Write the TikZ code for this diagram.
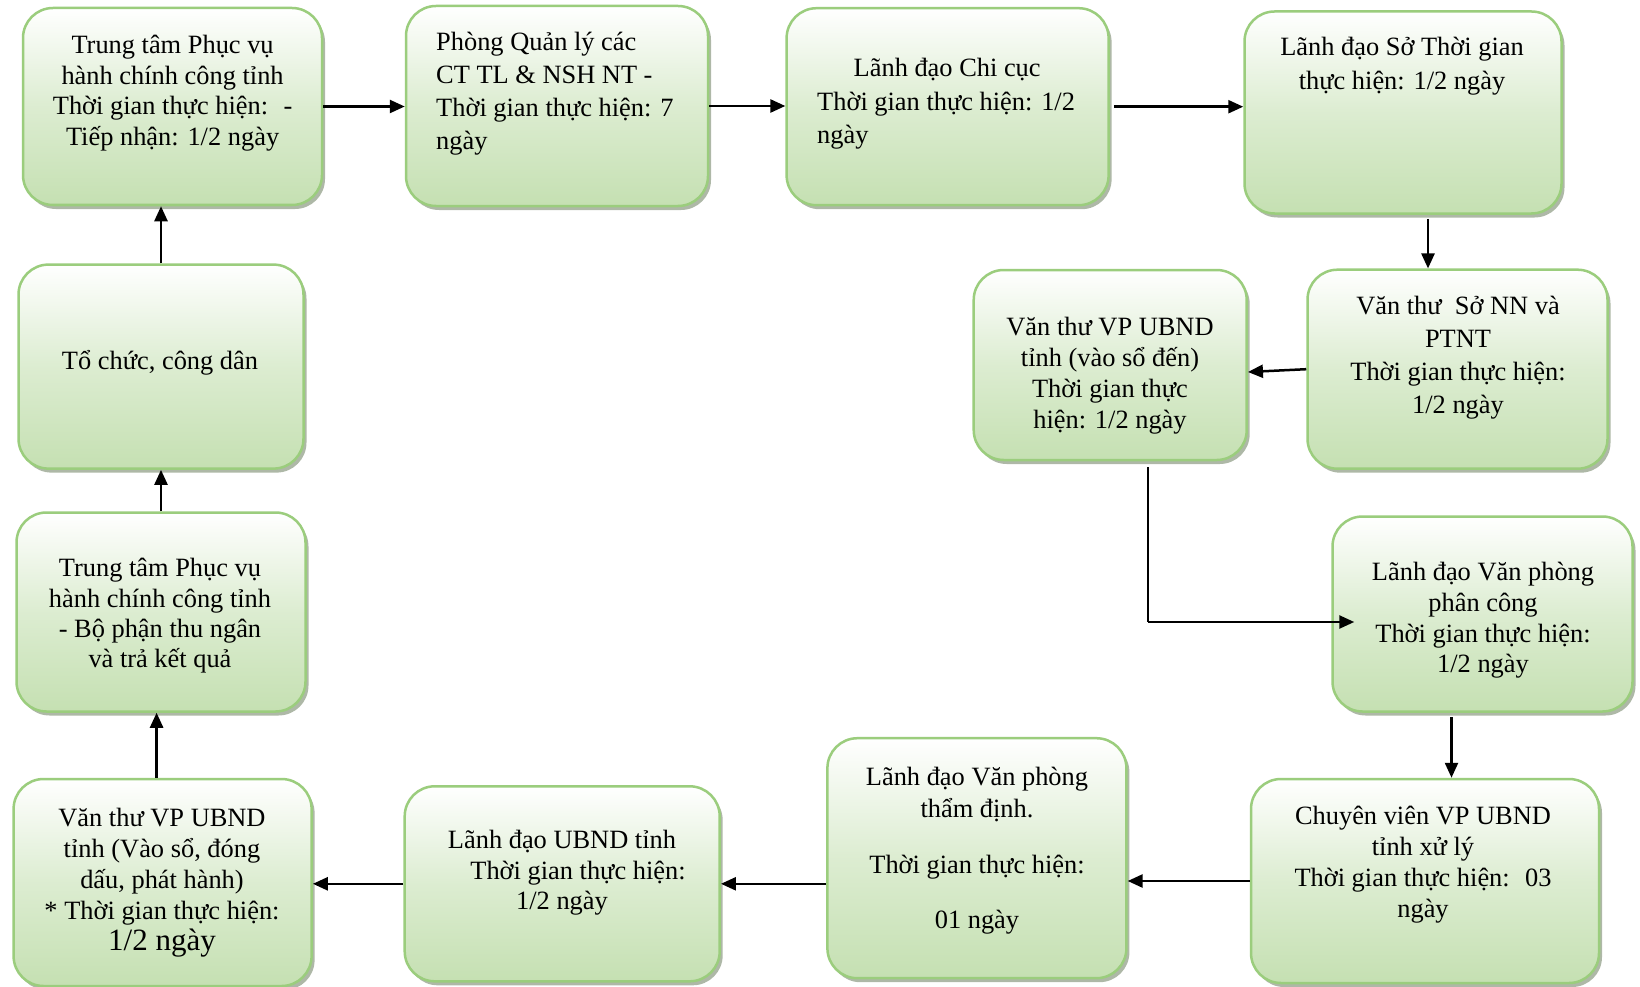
\documentclass[tikz,border=0pt]{standalone}
\usepackage{fontspec}
\setmainfont{Liberation Serif}
\usetikzlibrary{arrows.meta,shadows}
\definecolor{boxgreen}{RGB}{197,224,178}
\definecolor{boxedge}{RGB}{155,205,125}
\definecolor{shadowc}{RGB}{140,155,130}
\begin{document}
\begin{tikzpicture}[x=1pt,y=-1pt,
 box/.style={draw=boxedge, line width=2.5pt, rounded corners=30pt,
   top color=white, bottom color=boxgreen, middle color=boxgreen!60,
   drop shadow={shadow xshift=3pt, shadow yshift=-4pt, fill=shadowc, opacity=0.7},
   inner sep=0pt},
 txt/.style={align=center, font=\fontsize{26.4}{30.5}\selectfont, inner sep=0pt, yshift=-2.5pt},
 arr/.style={-{Triangle[length=15pt,width=13pt]}, line width=2.5pt},
 thinline/.style={line width=1.8pt},
]
\useasboundingbox (0,0) rectangle (1640,987);
\fill[white] (0,0) rectangle (1640,987);

% boxes
\node[box, minimum width=299, minimum height=197] (A) at (172.5,106.5) {};
\node[box, minimum width=302, minimum height=200] (B) at (557,106) {};
\node[box, minimum width=322, minimum height=197] (C) at (947.6,106.7) {};
\node[box, minimum width=317, minimum height=202] (D) at (1403,112.5) {};
\node[box, minimum width=300, minimum height=199] (E) at (1457.5,369.2) {};
\node[box, minimum width=273, minimum height=190] (F) at (1110.2,365) {};
\node[box, minimum width=300, minimum height=195] (G) at (1482.5,614) {};
\node[box, minimum width=348, minimum height=204] (H) at (1425,881) {};
\node[box, minimum width=299, minimum height=240] (I) at (976.9,858.2) {};
\node[box, minimum width=315, minimum height=195] (J) at (562.2,883.8) {};
\node[box, minimum width=298, minimum height=207] (K) at (162.6,882.5) {};
\node[box, minimum width=289, minimum height=199] (L) at (161,612) {};
\node[box, minimum width=285, minimum height=204] (M) at (161,366.6) {};

% texts
\node[txt] (At) at (172.6,90.5) {Trung tâm Phục vụ\\hành chính công tỉnh\\Thời gian thực hiện:~ -\\Tiếp nhận: 1/2 ngày};
\node[txt, align=left, anchor=west, font=\fontsize{26.4}{33}\selectfont] (Bt) at (436,91.5) {Phòng Quản lý các\\CT TL \& NSH NT -\\Thời gian thực hiện: 7\\ngày};
\node[txt, align=left, anchor=west, font=\fontsize{26.4}{33.5}\selectfont] (Ct) at (817,101.5) {\hspace*{36.5pt}Lãnh đạo Chi cục\\Thời gian thực hiện: 1/2\\ngày};
\node[txt, font=\fontsize{26.4}{33.5}\selectfont] (Dt) at (1402,63.8) {Lãnh đạo Sở Thời gian\\thực hiện: 1/2 ngày};
\node[txt, font=\fontsize{26.4}{33}\selectfont] (Et) at (1458,355) {Văn thư~~Sở NN và\\PTNT\\Thời gian thực hiện:\\1/2 ngày};
\node[txt, font=\fontsize{26.4}{31}\selectfont] (Ft) at (1110,373) {Văn thư VP UBND\\tỉnh (vào sổ đến)\\Thời gian thực\\hiện: 1/2 ngày};
\node[txt, font=\fontsize{26.4}{30.7}\selectfont] (Gt) at (1483,618) {Lãnh đạo Văn phòng\\phân công\\Thời gian thực hiện:\\1/2 ngày};
\node[txt, font=\fontsize{26.4}{31}\selectfont] (Ht) at (1423,862.6) {Chuyên viên VP UBND\\tỉnh xử lý\\Thời gian thực hiện:~ 03\\ngày};
\node[txt, font=\fontsize{26.4}{31.5}\selectfont] (It) at (977,848) {Lãnh đạo Văn phòng\\thẩm định.\\[25pt]Thời gian thực hiện:\\[23pt]01 ngày};
\node[txt, font=\fontsize{26.4}{30.3}\selectfont] (Jt) at (562,870.3) {Lãnh đạo UBND tỉnh\\\hspace*{32pt}Thời gian thực hiện:\\1/2 ngày};
\node[txt, font=\fontsize{26.4}{31}\selectfont] (Kt) at (162,880.6) {Văn thư VP UBND\\tỉnh (Vào sổ, đóng\\dấu, phát hành)\\* Thời gian thực hiện:\\{\fontsize{31}{36.5}\selectfont 1/2 ngày}};
\node[txt, font=\fontsize{26.4}{30.3}\selectfont] (Lt) at (160,613.4) {Trung tâm Phục vụ\\hành chính công tỉnh\\- Bộ phận thu ngân\\và trả kết quả};
\node[txt] (Mt) at (160,359.8) {Tổ chức, công dân};

% connectors
\draw[arr] (A.east) -- (A.east -| B.west);
\draw[arr] (B.east) -- (B.east -| C.west);
\draw[arr] ([xshift=4pt]C.east) -- (C.east -| D.west);
\draw[arr] ([xshift=25pt,yshift=-4pt]D.south) -- ([xshift=25pt]D.south |- E.north);
\draw[arr] (E.west) -- ([yshift=-7pt]F.east);
\coordinate (GW) at ([xshift=23pt,yshift=-8pt]G.west);
\coordinate (FS) at ([xshift=38pt,yshift=-6pt]F.south);
\coordinate (FG) at (FS |- GW);
\draw[thinline] (FS) -- (FG);
\draw[arr] (FG) -- (GW);
\draw[arr] ([xshift=-31pt,yshift=-4pt]G.south) -- ([xshift=-31pt]G.south |- H.north);
\draw[arr] (H.west) -- (H.west -| I.east);
\draw[arr] (I.west |- J.east) -- (J.east);
\draw[arr] (J.west) -- (J.west -| K.east);
\draw[arr] ([xshift=-6pt]K.north) -- ([xshift=-6pt]K.north |- L.south);
\draw[arr] (L.north) -- (L.north |- M.south);
\draw[arr] (M.north) -- (M.north |- A.south);
\end{tikzpicture}
\end{document}
